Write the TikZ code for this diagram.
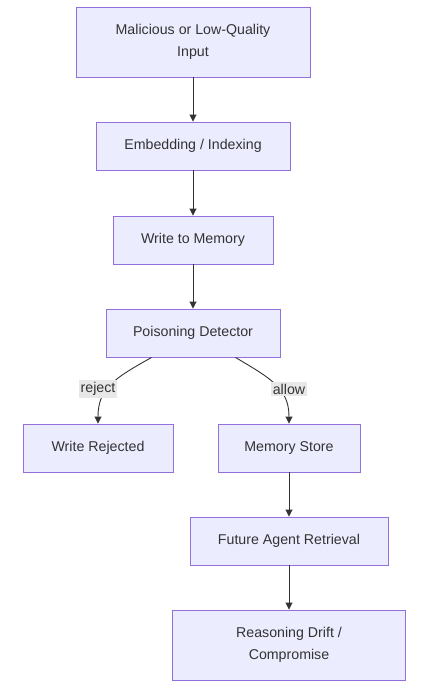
\documentclass[tikz,border=0pt]{standalone}
\usepackage{fontspec}
\setmainfont{Liberation Sans}
\usetikzlibrary{arrows.meta}
\definecolor{boxfill}{HTML}{ECECFF}
\definecolor{boxline}{HTML}{9370DB}
\definecolor{edgecol}{HTML}{333333}
\definecolor{lblfill}{HTML}{E8E8E8}
\begin{document}
\begin{tikzpicture}[x=1pt,y=-1pt,
  box/.style={draw=boxline,fill=boxfill,line width=0.9pt,minimum height=48pt,
    align=center,inner sep=0pt,text=edgecol,font=\fontsize{14.2}{22}\selectfont},
  flow/.style={draw=edgecol,line width=0.9pt,-{Triangle[length=7pt,width=7pt]}},
  edgelbl/.style={fill=lblfill,inner sep=2pt,text=edgecol,font=\fontsize{14.2}{16}\selectfont}]
\useasboundingbox (0,0) rectangle (437,688);
% main chain
\node[box,minimum width=234pt,minimum height=70pt] (input) at (193,42) {Malicious or Low-Quality\\Input};
\node[box,minimum width=194pt] (embed) at (193,146) {Embedding / Indexing};
\node[box,minimum width=160pt] (write) at (193,240) {Write to Memory};
\node[box,minimum width=174pt] (detect) at (193,333) {Poisoning Detector};
\node[box,minimum width=150pt] (reject) at (98,448) {Write Rejected};
\node[box,minimum width=142pt] (store) at (289,448) {Memory Store};
\node[box,minimum width=198pt] (future) at (289,541) {Future Agent Retrieval};
\node[box,minimum width=233pt,minimum height=70pt] (drift) at (289,645) {Reasoning Drift /\\Compromise};
\draw[flow] (input) -- (embed);
\draw[flow] (embed) -- (write);
\draw[flow] (write) -- (detect);
\draw[flow] (store) -- (future);
\draw[flow] (future) -- (drift);
% branches
\draw[flow] ([xshift=46pt]detect.south west) .. controls (115,378) and (98,388) .. (reject.north);
\draw[flow] ([xshift=-45pt]detect.south east) .. controls (270,378) and (289,388) .. (store.north);
\node[edgelbl] (rejlbl) at (98,389) {reject};
\node[edgelbl] (allowlbl) at (289,389) {allow};
\end{tikzpicture}
\end{document}
